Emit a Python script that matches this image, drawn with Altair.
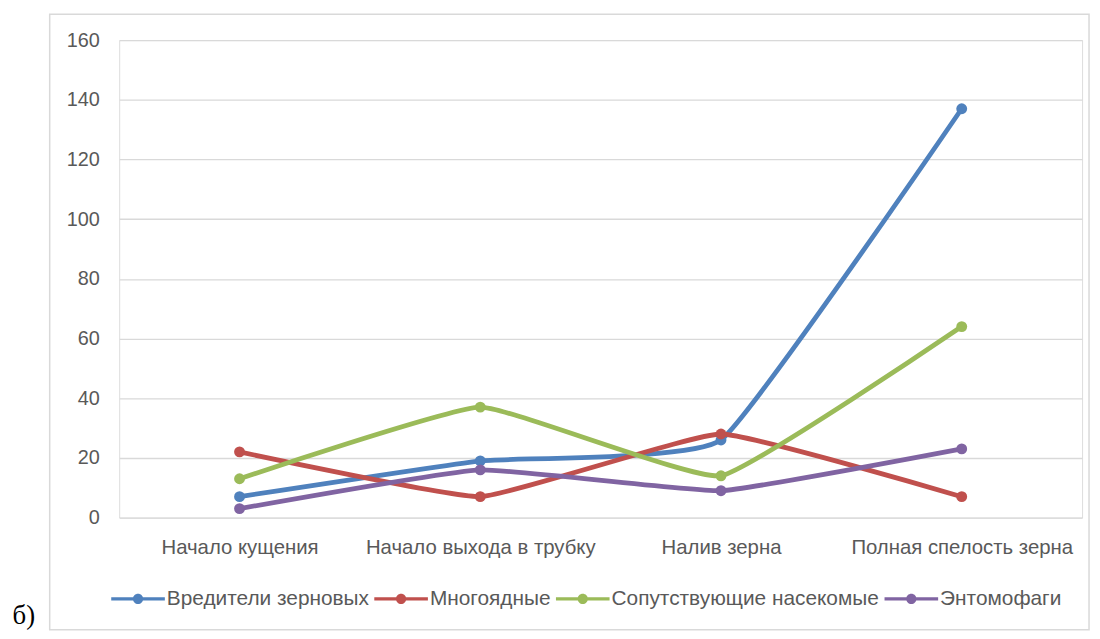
import altair as alt
import pandas as pd

stages = ["Начало кущения", "Начало выхода в трубку", "Налив зерна", "Полная спелость зерна"]
series_names = ["Вредители зерновых", "Многоядные", "Сопутствующие насекомые", "Энтомофаги"]
pests = [7, 19, 26, 137]
polyphagous = [22, 7, 28, 7]
accompanying = [13, 37, 14, 64]
entomophages = [3, 16, 9, 23]
colors = ["#4F81BD", "#C0504D", "#9BBB59", "#8064A2"]
y_ticks = [0, 20, 40, 60, 80, 100, 120, 140, 160]

rows = []
for name, vals in zip(series_names, [pests, polyphagous, accompanying, entomophages]):
    for st, v in zip(stages, vals):
        rows.append({"stage": st, "series": name, "value": v})
df = pd.DataFrame(rows)

W, H = 970, 481

sym_path = ("M-1,-0.06L1,-0.06L1,0.06L-1,0.06Z"
            "M0.19,0A0.19,0.19,0,1,1,-0.19,0A0.19,0.19,0,1,1,0.19,0Z")

color = alt.Color(
    "series:N",
    scale=alt.Scale(domain=series_names, range=colors),
    legend=alt.Legend(
        title=None, orient="none", direction="horizontal",
        legendX=-8, legendY=536,
        symbolType=sym_path, symbolSize=2916, symbolStrokeWidth=0,
        labelFont="Liberation Sans", labelFontSize=21, labelColor="#595959",
        labelOffset=2, columnPadding=5, symbolOpacity=1, labelLimit=0,
    ),
)

base = alt.Chart(df).encode(
    x=alt.X("stage:N", sort=stages,
            scale=alt.Scale(type="point", padding=0.5),
            axis=alt.Axis(title=None, labelAngle=0, ticks=False, domain=False, grid=False,
                          labelFont="Liberation Sans", labelFontSize=20.5, labelColor="#595959",
                          labelPadding=20, labelLimit=0)),
    y=alt.Y("value:Q",
            scale=alt.Scale(domain=[0, 160], nice=False),
            axis=alt.Axis(title=None, values=y_ticks, ticks=False, domain=False,
                          grid=True, gridColor="#D9D9D9", gridWidth=1.3,
                          labelFont="Liberation Sans", labelFontSize=20, labelColor="#595959",
                          labelPadding=20)),
    color=color,
)

lines = base.mark_line(strokeWidth=4.8, interpolate="cardinal", tension=0.65)
points = base.mark_point(filled=True, size=120, opacity=1)

deco = pd.DataFrame({"a": [0]})
border = alt.Chart(deco).mark_rect(fill=None, stroke="#D9D9D9", strokeWidth=1.5).encode(
    x=alt.value(-70), x2=alt.value(977), y=alt.value(-26), y2=alt.value(594)
)
label = alt.Chart(deco).mark_text(
    text="б)", font="Liberation Serif", fontSize=27, color="#000000",
    align="center", baseline="alphabetic"
).encode(x=alt.value(-96), y=alt.value(588))

chart = alt.layer(border, lines, points, label).properties(
    width=W, height=H,
    autosize=alt.AutoSizeParams(type="none"),
    padding={"left": 112, "top": 30, "right": 10, "bottom": 118},
).configure_view(stroke=None).configure(background="#FFFFFF")

chart.save("out.html", embed_options={"renderer": "svg", "actions": False})
